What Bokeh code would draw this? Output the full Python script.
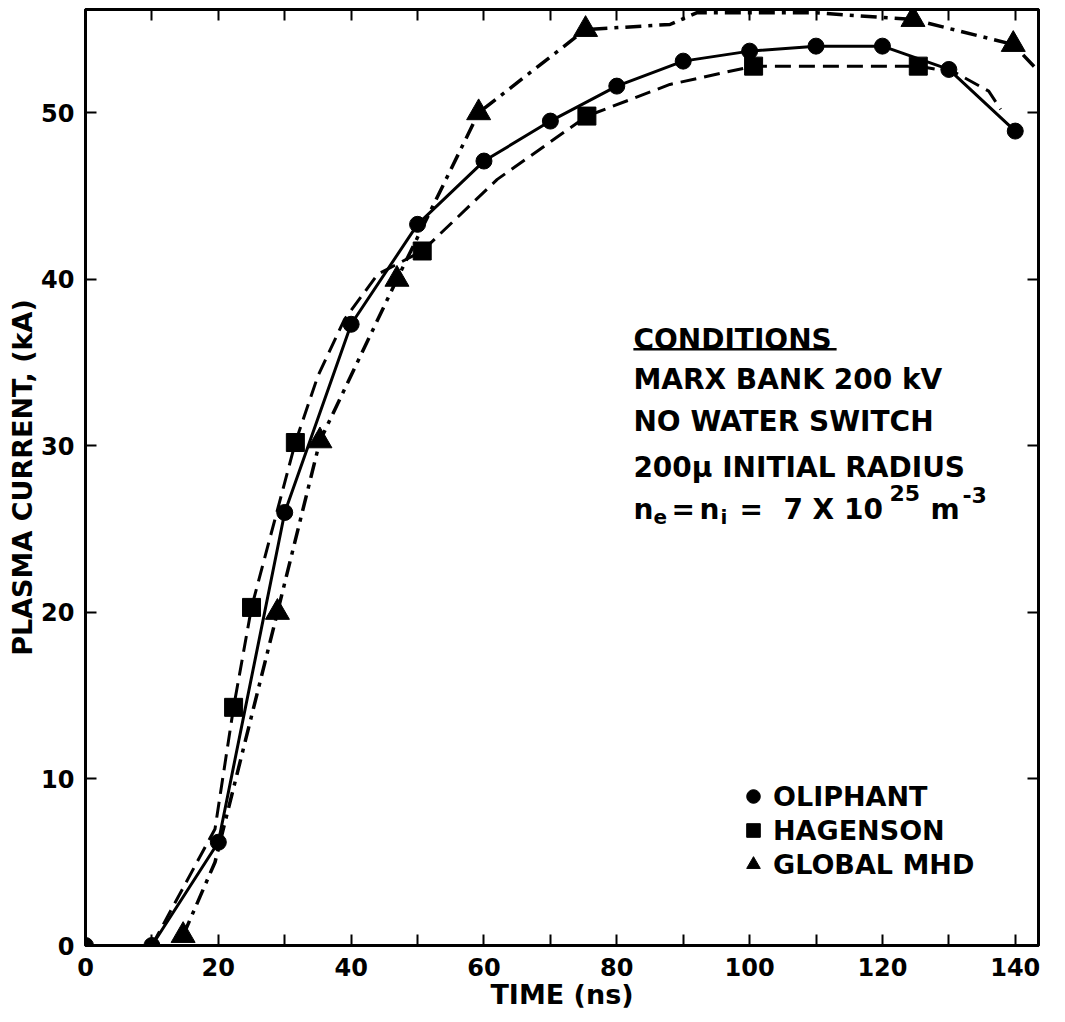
from bokeh.plotting import figure
from bokeh.models import Range1d, LinearAxis, FixedTicker, Label, Legend, LegendItem
from bokeh.embed import file_html
from bokeh.resources import INLINE

# ---------------- data ----------------
oliphant_time = [0, 10, 20, 30, 40, 50, 60, 70, 80, 90, 100, 110, 120, 130, 140]
oliphant_current = [0.0, 0.0, 6.2, 26.0, 37.3, 43.3, 47.1, 49.5, 51.6, 53.1, 53.7, 54.0, 54.0, 52.6, 48.9]

hagenson_time = [22.3, 25.0, 31.6, 50.7, 75.5, 100.6, 125.4]
hagenson_current = [14.3, 20.3, 30.2, 41.7, 49.8, 52.8, 52.8]
# dashed curve drawn through the squares (including its ends)
hagenson_curve_time = [10, 19.5, 22.3, 25.0, 31.6, 35.0, 39.0, 44.0, 50.7, 62.0, 75.5, 88.0, 100.6, 125.4, 131.0, 136.0, 137.8]
hagenson_curve_current = [0.0, 7.0, 14.3, 20.3, 30.2, 34.2, 37.6, 40.3, 41.7, 46.0, 49.8, 51.7, 52.8, 52.8, 52.4, 51.3, 50.2]

mhd_time = [14.7, 28.9, 35.3, 46.9, 59.2, 75.3, 124.6, 139.7]
mhd_current = [0.6, 20.0, 30.3, 40.0, 50.0, 55.0, 55.6, 54.1]
# dash-dot curve drawn through the triangles (including its ends)
mhd_curve_time = [14.7, 19.5, 28.9, 35.3, 46.9, 59.2, 75.3, 88.0, 92.0, 110.0, 124.6, 139.7, 143.5]
mhd_curve_current = [0.6, 5.0, 20.0, 30.3, 40.0, 50.0, 55.0, 55.3, 56.0, 56.0, 55.6, 54.1, 52.5]

x_ticks = [0, 20, 40, 60, 80, 100, 120, 140]
x_minor_ticks = [10, 30, 50, 70, 90, 110, 130]
y_ticks = [0, 10, 20, 30, 40, 50]

x_title = "TIME (ns)"
y_title = "PLASMA CURRENT, (kA)"
legend_labels = ["OLIPHANT", "HAGENSON", "GLOBAL MHD"]
conditions_title = "CONDITIONS"
conditions_lines = ["MARX BANK 200 kV", "NO WATER SWITCH", "200\u03bc INITIAL RADIUS"]

FONT = "DejaVu Sans"

p = figure(frame_width=953, frame_height=936, output_backend="svg", toolbar_location=None,
           x_range=Range1d(0, 143.5), y_range=Range1d(0, 56.2),
           min_border_left=85, min_border_right=12, min_border_top=9, min_border_bottom=66)
p.grid.visible = False
p.outline_line_color = "black"
p.outline_line_width = 3
p.background_fill_color = "white"
p.border_fill_color = "white"


def style_axis(ax):
    ax.axis_line_width = 3
    ax.axis_line_color = "black"
    ax.major_tick_line_width = 2
    ax.minor_tick_line_width = 2
    ax.major_tick_in = 11
    ax.major_tick_out = 0
    ax.minor_tick_in = 11
    ax.minor_tick_out = 0
    ax.major_label_text_font = FONT
    ax.major_label_text_font_style = "bold"
    ax.major_label_text_font_size = "24px"
    ax.major_label_text_color = "black"
    ax.axis_label_text_font = FONT
    ax.axis_label_text_font_style = "bold"
    ax.axis_label_text_font_size = "27px"
    ax.axis_label_text_color = "black"


xa = p.xaxis[0]
xa.ticker = FixedTicker(ticks=x_ticks, minor_ticks=x_minor_ticks)
style_axis(xa)
xa.axis_label = x_title
xa.major_label_standoff = 12
xa.axis_label_standoff = 0

ya = p.yaxis[0]
ya.ticker = FixedTicker(ticks=y_ticks)
style_axis(ya)
ya.axis_label = y_title
ya.major_label_standoff = 11
ya.axis_label_standoff = 0

top = LinearAxis(ticker=FixedTicker(ticks=x_ticks, minor_ticks=x_minor_ticks),
                 major_label_overrides={t: "" for t in x_ticks})
style_axis(top)
top.major_label_standoff = 0
p.add_layout(top, "above")

right = LinearAxis(ticker=FixedTicker(ticks=y_ticks),
                   major_label_overrides={t: "" for t in y_ticks})
style_axis(right)
right.major_label_standoff = 0
p.add_layout(right, "right")

# ---------------- curves ----------------
p.line(oliphant_time, oliphant_current, line_color="black", line_width=3)
p.line(hagenson_curve_time, hagenson_curve_current, line_color="black", line_width=3,
       line_dash="16 8")
p.line(mhd_curve_time, mhd_curve_current, line_color="black", line_width=3.5,
       line_dash="16 7 4 7")

r_o = p.scatter(oliphant_time, oliphant_current, marker="circle", size=16,
                fill_color="black", line_color="black")
r_h = p.scatter(hagenson_time, hagenson_current, marker="square", size=18,
                fill_color="black", line_color="black")
r_m = p.scatter(mhd_time, mhd_current, marker="triangle", size=24,
                fill_color="black", line_color="black")

legend = Legend(items=[LegendItem(label=legend_labels[0], renderers=[r_o]),
                       LegendItem(label=legend_labels[1], renderers=[r_h]),
                       LegendItem(label=legend_labels[2], renderers=[r_m])],
                location=(648, 64))
legend.label_text_font = FONT
legend.label_text_font_style = "bold"
legend.label_text_font_size = "27px"
legend.label_text_color = "black"
legend.glyph_width = 40
legend.glyph_height = 34
legend.label_height = 34
legend.spacing = 0
legend.padding = 0
legend.margin = 0
legend.label_standoff = 0
legend.border_line_color = None
legend.background_fill_alpha = 0
p.add_layout(legend)

# ---------------- conditions block ----------------
cx = 82.5


def add_text(txt, x, y, size="28px", dx=0, dy=0, style="bold"):
    p.add_layout(Label(x=x, y=y, text=txt, x_offset=dx, y_offset=dy,
                       text_font=FONT, text_font_style=style, text_font_size=size,
                       text_color="black", text_align="left", text_baseline="alphabetic"))


add_text(conditions_title, cx, 36.4)
p.segment(x0=[cx], y0=[35.8], x1=[113.1], y1=[35.8], line_color="black", line_width=2.5)
for txt, yy in zip(conditions_lines, [34.0, 31.45, 28.7]):
    add_text(txt, cx, yy)

ny = 26.2
add_text("n", cx, ny, dx=0)
add_text("e", cx, ny, size="20px", dx=20, dy=-8)
add_text("=", cx, ny, dx=38)
add_text("n", cx, ny, dx=66)
add_text("i", cx, ny, size="20px", dx=87, dy=-8)
add_text("=", cx, ny, dx=106)
add_text("7 X 10", cx, ny, dx=150)
add_text("25", cx, ny, size="22px", dx=256, dy=16)
add_text("m", cx, ny, dx=297)
add_text("-3", cx, ny, size="22px", dx=329, dy=14)

open("out.html", "w").write(file_html(p, INLINE))
